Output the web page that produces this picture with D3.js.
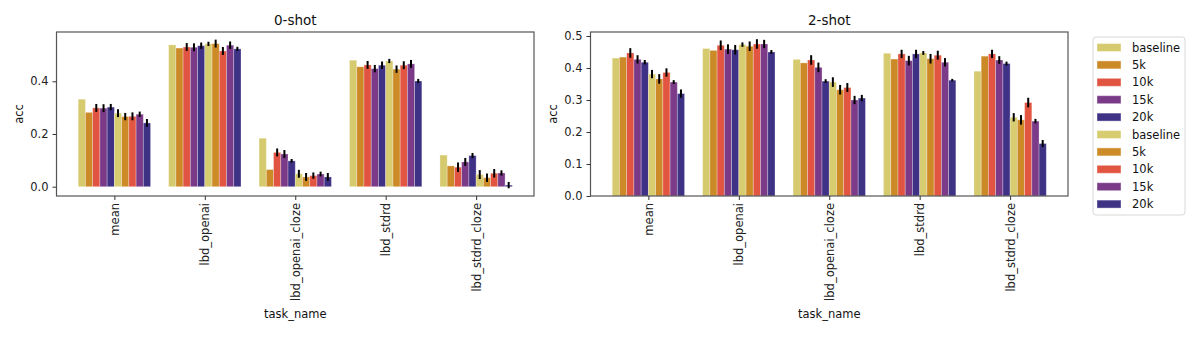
<!DOCTYPE html>
<html>
<head>
<meta charset="utf-8">
<script src="https://cdn.jsdelivr.net/npm/d3@7"></script>
<style>
  body { margin: 0; background: #fff; }
  text { font-family: "DejaVu Sans", sans-serif; }
</style>
</head>
<body>
<div id="chart"></div>
<script>
// tasks on the x axis
const tasks = ["mean", "lbd_openai", "lbd_openai_cloze", "lbd_stdrd", "lbd_stdrd_cloze"];
// hue order: two runs, each baseline/5k/10k/15k/20k
const hueLabels = ["baseline", "5k", "10k", "15k", "20k", "baseline", "5k", "10k", "15k", "20k"];
const hueColors = ["#d6ca6e", "#cb8a27", "#e05441", "#7a3a87", "#3f3286",
                   "#d8cc71", "#cd8b28", "#e25541", "#7b3b88", "#3e3285"];

// acc per task (rows) per hue (cols)
const acc0 = [
  [0.332, 0.282, 0.299, 0.298, 0.302, 0.279, 0.266, 0.267, 0.275, 0.242],
  [0.538, 0.526, 0.530, 0.529, 0.535, 0.542, 0.543, 0.515, 0.537, 0.523],
  [0.184, 0.065, 0.130, 0.124, 0.098, 0.049, 0.037, 0.042, 0.048, 0.037],
  [0.480, 0.455, 0.462, 0.448, 0.461, 0.477, 0.446, 0.461, 0.466, 0.401],
  [0.120, 0.079, 0.074, 0.094, 0.118, 0.046, 0.034, 0.051, 0.052, 0.006]
];
const err0 = [
  [0, 0, 0.015, 0.015, 0.012, 0.015, 0.014, 0.015, 0.010, 0.015],
  [0, 0, 0.015, 0.015, 0.012, 0.008, 0.015, 0.015, 0.014, 0.008],
  [0, 0, 0.015, 0.015, 0.007, 0.015, 0.015, 0.012, 0.009, 0.015],
  [0, 0, 0.015, 0.014, 0.014, 0.008, 0.014, 0.015, 0.015, 0.008],
  [0, 0, 0.018, 0.015, 0.010, 0.017, 0.016, 0.016, 0.010, 0.012]
];
const acc2 = [
  [0.431, 0.434, 0.447, 0.427, 0.418, 0.381, 0.366, 0.386, 0.356, 0.320],
  [0.461, 0.455, 0.471, 0.459, 0.457, 0.473, 0.468, 0.475, 0.475, 0.450],
  [0.427, 0.416, 0.425, 0.402, 0.359, 0.356, 0.332, 0.339, 0.300, 0.306],
  [0.446, 0.428, 0.444, 0.423, 0.444, 0.447, 0.429, 0.440, 0.418, 0.362],
  [0.390, 0.437, 0.444, 0.425, 0.414, 0.246, 0.238, 0.292, 0.234, 0.164]
];
const err2 = [
  [0, 0, 0.015, 0.013, 0.007, 0.013, 0.015, 0.013, 0.006, 0.013],
  [0, 0, 0.015, 0.015, 0.015, 0.007, 0.015, 0.015, 0.013, 0.006],
  [0, 0, 0.015, 0.015, 0.006, 0.015, 0.015, 0.014, 0.013, 0.010],
  [0, 0, 0.013, 0.015, 0.013, 0.006, 0.015, 0.014, 0.013, 0.004],
  [0, 0, 0.013, 0.012, 0.006, 0.013, 0.015, 0.015, 0.007, 0.011]
];
const yTicks0 = [0.0, 0.2, 0.4];
const yTicks2 = [0.0, 0.1, 0.2, 0.3, 0.4, 0.5];

const width = 1196, height = 345;
const svg = d3.select("#chart").append("svg")
    .attr("width", width)
    .attr("height", height);

function drawPanel(opts) {
    const { left, right, top, bottom, yDomain, ticks, acc, err, title } = opts;

    // band positions like matplotlib: categories at 0..4, xlim [-0.64, 4.64]
    const x = d3.scaleLinear().domain([-0.64, 4.64]).range([left, right]);
    const y = d3.scaleLinear().domain(yDomain).range([bottom, top]);
    const barW = 0.8 / hueLabels.length;

    const g = svg.append("g");

    tasks.forEach((t, i) => {
        hueLabels.forEach((h, j) => {
            const x0 = i - 0.4 + j * barW;
            const v = acc[i][j];
            g.append("rect")
                .attr("x", x(x0))
                .attr("y", y(v))
                .attr("width", x(x0 + barW) - x(x0))
                .attr("height", y(0) - y(v))
                .attr("fill", hueColors[j])
                .attr("stroke", "rgba(255,255,255,0.35)")
                .attr("stroke-width", 0.8);
        });
    });

    // error bars
    tasks.forEach((t, i) => {
        hueLabels.forEach((h, j) => {
            const e = err[i][j];
            if (!e) return;
            const cx = x(i - 0.4 + (j + 0.5) * barW);
            g.append("line")
                .attr("x1", cx).attr("x2", cx)
                .attr("y1", y(acc[i][j] - e))
                .attr("y2", y(acc[i][j] + e))
                .attr("stroke", "#000")
                .attr("stroke-width", 2);
        });
    });

    // axes box
    g.append("rect")
        .attr("x", left).attr("y", top)
        .attr("width", right - left).attr("height", bottom - top)
        .attr("fill", "none")
        .attr("stroke", "#555")
        .attr("stroke-width", 1.2);

    // y axis
    const yAxis = g.append("g")
        .attr("transform", `translate(${left},0)`)
        .call(d3.axisLeft(y).tickValues(ticks).tickFormat(d3.format(".1f")).tickSize(4).tickPadding(4));
    yAxis.select(".domain").remove();
    yAxis.selectAll("line").attr("stroke", "#333");
    yAxis.selectAll("text").attr("font-size", "11.5px").attr("fill", "#222")
        .style("font-family", "DejaVu Sans");

    // x axis
    const xAxis = g.append("g")
        .attr("transform", `translate(0,${bottom})`)
        .call(d3.axisBottom(x).tickValues(d3.range(tasks.length)).tickFormat((d) => tasks[d]).tickSize(4).tickPadding(4));
    xAxis.select(".domain").remove();
    xAxis.selectAll("line").attr("stroke", "#333");
    xAxis.selectAll("text")
        .attr("font-size", "11.5px").attr("fill", "#222")
        .style("font-family", "DejaVu Sans")
        .attr("text-anchor", "end")
        .attr("dy", "0.35em")
        .attr("transform", "rotate(-90)")
        .attr("x", -7)
        .attr("y", 0);

    // labels
    g.append("text")
        .attr("x", (left + right) / 2).attr("y", 25)
        .attr("text-anchor", "middle")
        .attr("font-size", "13.5px").attr("fill", "#111")
        .text(title);
    g.append("text")
        .attr("x", (left + right) / 2).attr("y", 318)
        .attr("text-anchor", "middle")
        .attr("font-size", "11.5px").attr("fill", "#111")
        .text("task_name");
    g.append("text")
        .attr("transform", `translate(${left - 34},${(top + bottom) / 2}) rotate(-90)`)
        .attr("text-anchor", "middle")
        .attr("font-size", "11.5px").attr("fill", "#111")
        .text("acc");
}

drawPanel({ left: 56.5, right: 534, top: 32, bottom: 196, yDomain: [-0.0353, 0.5870],
            ticks: yTicks0, acc: acc0, err: err0, title: "0-shot" });
drawPanel({ left: 590.5, right: 1068, top: 32, bottom: 196, yDomain: [0, 0.5125],
            ticks: yTicks2, acc: acc2, err: err2, title: "2-shot" });

// legend
const legend = svg.append("g").attr("transform", "translate(1093,37)");
legend.append("rect")
    .attr("width", 92).attr("height", 178)
    .attr("rx", 3)
    .attr("fill", "#fff")
    .attr("stroke", "#d8d8d8");
hueLabels.forEach((h, j) => {
    const yy = 10.5 + j * 17.4;
    legend.append("rect")
        .attr("x", 4).attr("y", yy - 4)
        .attr("width", 24).attr("height", 8)
        .attr("fill", hueColors[j])
        .attr("stroke", "rgba(255,255,255,0.4)");
    legend.append("text")
        .attr("x", 39).attr("y", yy)
        .attr("dy", "0.35em")
        .attr("font-size", "11.5px").attr("fill", "#111")
        .text(h);
});
</script>
</body>
</html>
